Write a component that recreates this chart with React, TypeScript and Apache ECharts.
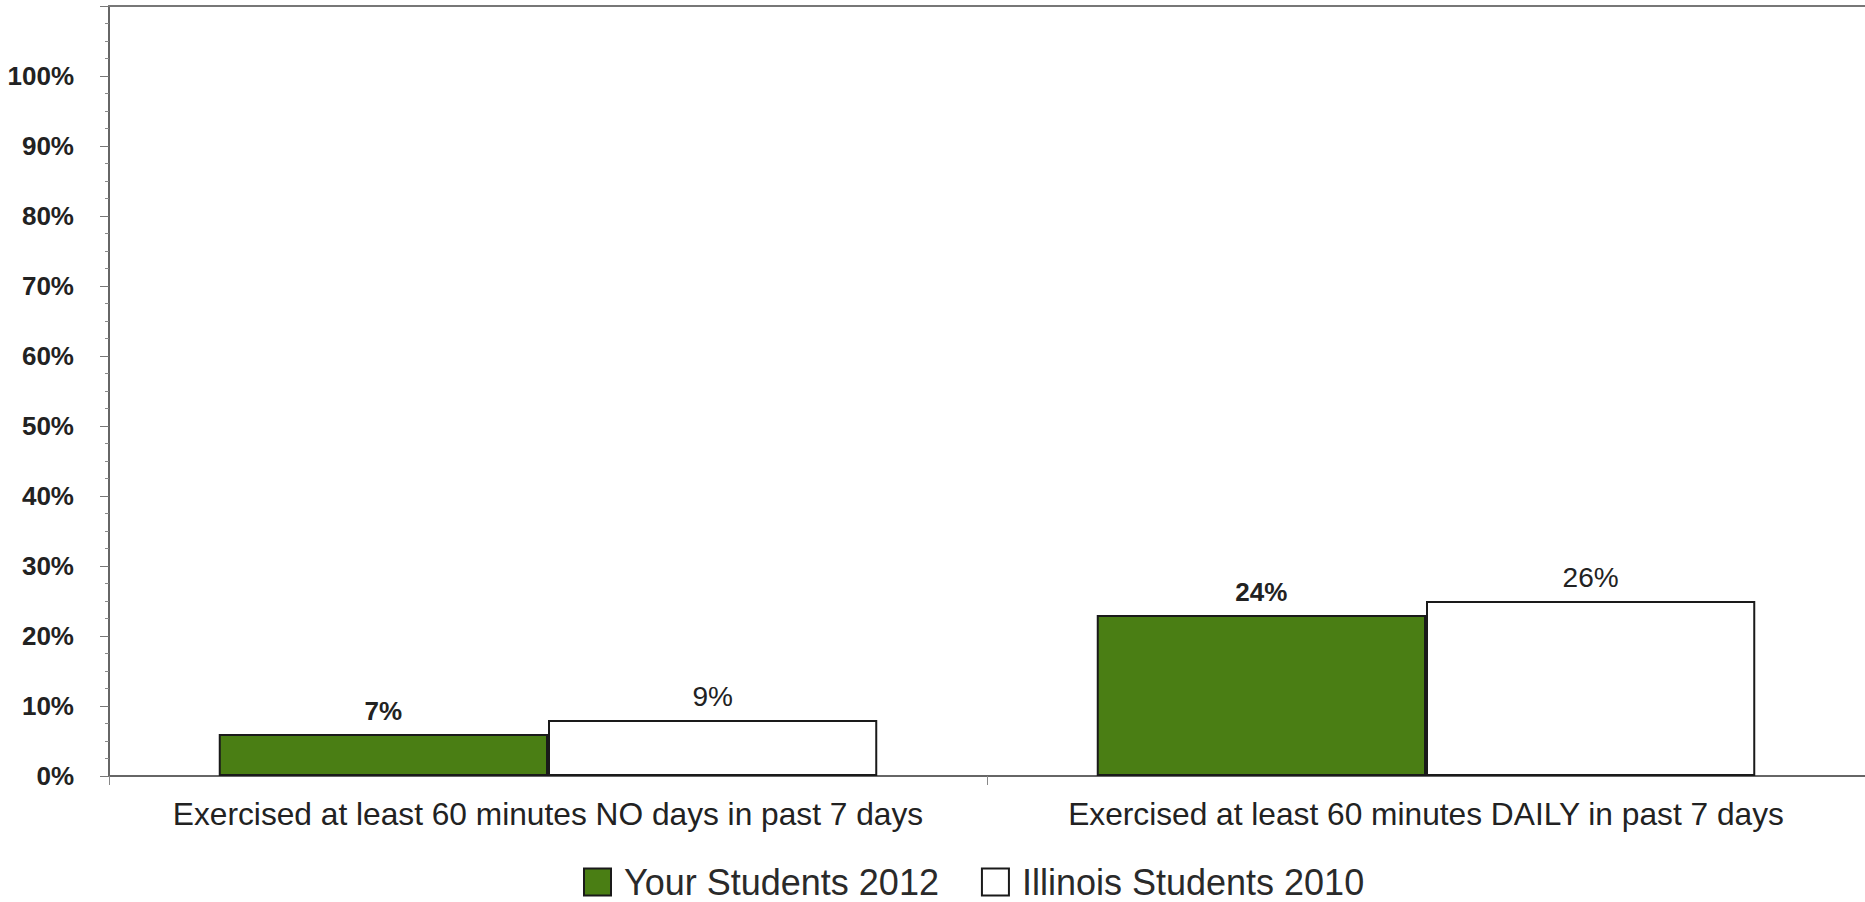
import React, { useEffect, useRef } from "react";
import * as echarts from "echarts";

const categories = [
  "Exercised at least 60 minutes NO days in past 7 days",
  "Exercised at least 60 minutes DAILY in past 7 days",
];
const seriesNames = ["Your Students 2012", "Illinois Students 2010"];
// bar heights as drawn in the picture (percent)
const yourStudents = [6, 23];
const illinoisStudents = [8, 25];
// value labels as printed above the bars
const yourLabels = ["7%", "24%"];
const illinoisLabels = ["9%", "26%"];
const yTickMax = 110;
const yTickStep = 10;

const NARROW = "'Liberation Sans Narrow', 'Arial Narrow', 'Liberation Sans', Arial, sans-serif";
const ARIAL = "'Liberation Sans', Arial, sans-serif";

export default function App() {
  const ref = useRef<HTMLDivElement>(null);
  useEffect(() => {
    document.body.style.margin = "0";
    const chart = echarts.init(ref.current!, null, { renderer: "svg" });
    chart.setOption({
      animation: false,
      backgroundColor: "#ffffff",
      grid: { left: 109, right: 0, top: 6, bottom: 126, containLabel: false },
      legend: {
        left: 578,
        top: 859,
        padding: 5,
        itemWidth: 27,
        itemHeight: 27,
        itemGap: 42,
        icon: "rect",
        textStyle: {
          fontFamily: ARIAL,
          fontSize: 36,
          color: "#2a2a2a",
          padding: [0, 0, 0, 8],
        },
        data: seriesNames,
      },
      xAxis: [
        {
          type: "category",
          data: categories,
          axisLine: { lineStyle: { color: "#666", width: 2 } },
          axisTick: { show: true, length: 9, lineStyle: { color: "#888", width: 1 } },
          axisLabel: {
            interval: 0,
            fontFamily: ARIAL,
            fontSize: 31.7,
            color: "#222",
            margin: 22,
          },
        },
        {
          type: "category",
          data: categories,
          position: "top",
          axisLine: { show: true, lineStyle: { color: "#777", width: 2 } },
          axisTick: { show: false },
          axisLabel: { show: false },
        },
      ],
      yAxis: {
        type: "value",
        min: 0,
        max: yTickMax,
        interval: yTickStep,
        splitLine: { show: false },
        axisLine: { show: true, lineStyle: { color: "#666", width: 2 } },
        axisTick: { show: true, length: 9, lineStyle: { color: "#777", width: 1 } },
        minorTick: { show: true, splitNumber: 4, length: 4, lineStyle: { color: "#888", width: 1 } },
        axisLabel: {
          fontFamily: NARROW,
          fontWeight: "bold",
          fontSize: 26,
          color: "#222",
          margin: 35,
          formatter: (v: number) => (v > 100 ? "" : v + "%"),
        },
      },
      series: [
        {
          name: seriesNames[0],
          type: "bar",
          data: yourStudents,
          barGap: "0%",
          barCategoryGap: "25%",
          itemStyle: { color: "#4A7E14", borderColor: "#1a1a1a", borderWidth: 2 },
          label: {
            show: true,
            position: "top",
            distance: 10,
            fontFamily: NARROW,
            fontWeight: "bold",
            fontSize: 26,
            color: "#222",
            formatter: (p: any) => yourLabels[p.dataIndex],
          },
        },
        {
          name: seriesNames[1],
          type: "bar",
          data: illinoisStudents,
          itemStyle: { color: "#ffffff", borderColor: "#1a1a1a", borderWidth: 2 },
          label: {
            show: true,
            position: "top",
            distance: 10,
            fontFamily: ARIAL,
            fontSize: 28,
            color: "#222",
            formatter: (p: any) => illinoisLabels[p.dataIndex],
          },
        },
      ],
    });
    return () => chart.dispose();
  }, []);
  return <div ref={ref} style={{ width: 1865, height: 902 }} />;
}
